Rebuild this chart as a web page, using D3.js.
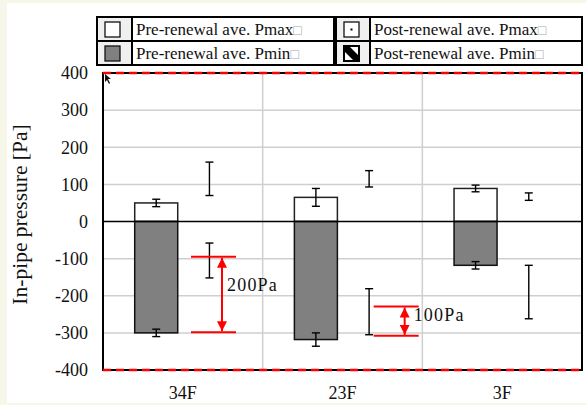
<!DOCTYPE html>
<html>
<head>
<meta charset="utf-8">
<script src="https://cdn.jsdelivr.net/npm/d3@7"></script>
<style>
  body { margin: 0; background: #f6f6e9; }
  svg { display: block; }
  text { font-family: "Liberation Serif", "Times New Roman", serif; fill: #111; }
</style>
</head>
<body>
<svg id="chart" width="586" height="405"></svg>
<script>
// floors
var categories = ["34F", "23F", "3F"];
// pre-renewal averages and error sizes
var preMax = [50, 65, 89];
var preMaxErr = [10, 24, 9];
var preMin = [-300, -318, -118];
var preMinErr = [10, 18, 10];
// post-renewal averages (only error bars visible)
var postMax = [115, 115, 67];
var postMaxErr = [45, 22, 10];
var postMin = [-105, -243, -190];
var postMinErr = [47, 62, 72];
var yTicks = [-400, -300, -200, -100, 0, 100, 200, 300, 400];
// difference annotations
var annoCat = ["34F", "23F"];
var annoTop = [-95, -229];
var annoBottom = [-298, -308];
var annoLabel = ["200Pa", "100Pa"];
var legendLabels = ["Pre-renewal ave. Pmax", "Post-renewal ave. Pmax",
                    "Pre-renewal ave. Pmin", "Post-renewal ave. Pmin"];

var svg = d3.select("#chart");
var W = 586, H = 405;
var m = {left: 103, right: 4, top: 73, bottom: 35};
var pw = W - m.left - m.right, ph = H - m.top - m.bottom;

svg.append("rect").attr("x", 7).attr("y", 3).attr("width", 579).attr("height", 400).attr("fill", "#fff");

var defs = svg.append("defs");
defs.append("marker").attr("id", "ah").attr("viewBox", "0 0 10 10")
  .attr("refX", 10).attr("refY", 5).attr("markerWidth", 5).attr("markerHeight", 5)
  .attr("orient", "auto-start-reverse")
  .append("path").attr("d", "M0,0L10,5L0,10z").attr("fill", "#ff0000");

var x = d3.scaleBand().domain(categories).range([0, pw]);
var x1 = d3.scalePoint().domain(["pre", "post"]).range([0, x.bandwidth()]).padding(1);
var y = d3.scaleLinear().domain([-400, 400]).range([ph, 0]);
var barW = 43;

var g = svg.append("g").attr("transform", "translate(" + m.left + "," + m.top + ")");

// grid
g.selectAll(".hg").data(yTicks.filter(function(d) { return d !== 0 && Math.abs(d) !== 400; }))
  .enter().append("line")
  .attr("x1", 0).attr("x2", pw).attr("y1", function(d) { return y(d); }).attr("y2", function(d) { return y(d); })
  .attr("stroke", "#cfcfcf").attr("stroke-width", 1.5);
g.selectAll(".vg").data(categories.slice(1)).enter().append("line")
  .attr("x1", function(d) { return x(d); }).attr("x2", function(d) { return x(d); })
  .attr("y1", 0).attr("y2", ph).attr("stroke", "#cfcfcf").attr("stroke-width", 1.5);

// bars
var rows = categories.map(function(c, i) {
  return {cat: c, preMax: preMax[i], preMaxErr: preMaxErr[i], preMin: preMin[i], preMinErr: preMinErr[i],
          postMax: postMax[i], postMaxErr: postMaxErr[i], postMin: postMin[i], postMinErr: postMinErr[i]};
});

function cx(d, s) { return x(d.cat) + x1(s); }

g.selectAll(".bmax").data(rows).enter().append("rect")
  .attr("x", function(d) { return cx(d, "pre") - barW / 2; })
  .attr("y", function(d) { return y(d.preMax); })
  .attr("width", barW).attr("height", function(d) { return y(0) - y(d.preMax); })
  .attr("fill", "#fff").attr("stroke", "#222").attr("stroke-width", 1.5);
g.selectAll(".bmin").data(rows).enter().append("rect")
  .attr("x", function(d) { return cx(d, "pre") - barW / 2; })
  .attr("y", y(0))
  .attr("width", barW).attr("height", function(d) { return y(d.preMin) - y(0); })
  .attr("fill", "#808080").attr("stroke", "#111").attr("stroke-width", 1.5);

// zero line
g.append("line").attr("x1", 0).attr("x2", pw).attr("y1", y(0)).attr("y2", y(0))
  .attr("stroke", "#000").attr("stroke-width", 1.3);

// error bars
var errs = [];
rows.forEach(function(d) {
  errs.push({x: cx(d, "pre"), v: d.preMax, e: d.preMaxErr});
  errs.push({x: cx(d, "pre"), v: d.preMin, e: d.preMinErr});
  errs.push({x: cx(d, "post"), v: d.postMax, e: d.postMaxErr});
  errs.push({x: cx(d, "post"), v: d.postMin, e: d.postMinErr});
});
var eb = g.selectAll(".err").data(errs).enter().append("g").attr("stroke", "#000").attr("stroke-width", 1.4);
eb.append("line").attr("x1", function(d) { return d.x; }).attr("x2", function(d) { return d.x; })
  .attr("y1", function(d) { return y(d.v + d.e); }).attr("y2", function(d) { return y(d.v - d.e); });
[1, -1].forEach(function(s) {
  eb.append("line").attr("x1", function(d) { return d.x - 4; }).attr("x2", function(d) { return d.x + 4; })
    .attr("y1", function(d) { return y(d.v + s * d.e); }).attr("y2", function(d) { return y(d.v + s * d.e); });
});

// annotations
var annoX = {"34F": [88, 133, 119], "23F": [111, 156, 142]};
var annoText = {"34F": [124, -10], "23F": [151, -6]};
annoCat.forEach(function(c, i) {
  var ax = annoX[c], bx = x(c);
  [annoTop[i], annoBottom[i]].forEach(function(v) {
    g.append("line").attr("x1", bx + ax[0]).attr("x2", bx + ax[1]).attr("y1", y(v)).attr("y2", y(v))
      .attr("stroke", "#ff0000").attr("stroke-width", 2);
  });
  g.append("line").attr("x1", bx + ax[2]).attr("x2", bx + ax[2])
    .attr("y1", y(annoTop[i]) + 1).attr("y2", y(annoBottom[i]) - 1)
    .attr("stroke", "#ff0000").attr("stroke-width", 2)
    .attr("marker-start", "url(#ah)").attr("marker-end", "url(#ah)");
  g.append("text").attr("x", bx + annoText[c][0])
    .attr("y", y((annoTop[i] + annoBottom[i]) / 2) + annoText[c][1])
    .attr("font-size", 18).attr("letter-spacing", 1.2).attr("dy", "0.35em")
    .text(annoLabel[i]);
});

// axes frame
g.append("rect").attr("width", pw).attr("height", ph).attr("fill", "none")
  .attr("stroke", "#000").attr("stroke-width", 2);
[400, -400].forEach(function(v) {
  g.append("line").attr("x1", 0).attr("x2", pw).attr("y1", y(v)).attr("y2", y(v))
    .attr("stroke", "#ff0000").attr("stroke-width", 2.5).attr("stroke-dasharray", "8,5");
});

// stray mouse cursor from the original screenshot
g.append("path").attr("d", "M2,1L2,9L4,7L6,11L7,10L5,6L8,6Z").attr("fill", "#111");

var ya = g.append("g").call(d3.axisLeft(y).tickValues(yTicks).tickSize(0).tickPadding(15)
  .tickFormat(function(d) { return String(d); }));
ya.select(".domain").remove();
ya.attr("font-family", null).attr("font-size", null);
ya.selectAll("text").attr("font-size", 18).attr("fill", "#111");

var xa = g.append("g").attr("transform", "translate(0," + ph + ")")
  .call(d3.axisBottom(x).tickSize(0).tickPadding(16));
xa.select(".domain").remove();
xa.attr("font-family", null).attr("font-size", null);
xa.selectAll("text").attr("font-size", 18).attr("fill", "#111");

svg.append("text").attr("transform", "translate(27," + (m.top + ph / 2 - 7) + ") rotate(-90)")
  .attr("text-anchor", "middle").attr("font-size", 21.5).text("In-pipe pressure [Pa]");

// legend table
var lg = svg.append("g");
var colX = [97, 132, 336, 370, 582];
var rowY = [17, 41, 65];
for (var r = 0; r < 2; r++) {
  for (var k = 0; k < 2; k++) {
    var ix = colX[k * 2], tx = colX[k * 2 + 1], ex = colX[k * 2 + 2];
    lg.append("rect").attr("x", ix).attr("y", rowY[r]).attr("width", tx - ix).attr("height", rowY[r + 1] - rowY[r])
      .attr("fill", "#f0f0f0").attr("stroke", "#000").attr("stroke-width", 2);
    lg.append("rect").attr("x", tx).attr("y", rowY[r]).attr("width", ex - tx - (k === 0 ? 2 : 0)).attr("height", rowY[r + 1] - rowY[r])
      .attr("fill", "#fff").attr("stroke", "#000").attr("stroke-width", 2);
    var sx = ix + 8, sy = rowY[r] + 5, ss = 15;
    var sw = lg.append("rect").attr("x", sx).attr("y", sy).attr("width", ss).attr("height", ss)
      .attr("stroke", "#111").attr("stroke-width", 1.3);
    if (k === 0) {
      sw.attr("fill", r === 0 ? "#fff" : "#808080");
    } else if (r === 0) {
      sw.attr("fill", "#fff");
      lg.append("rect").attr("x", sx + 6.5).attr("y", sy + 6.5).attr("width", 2).attr("height", 2).attr("fill", "#000");
    } else {
      sw.attr("fill", "#fff");
      lg.append("path").attr("d", "M" + sx + "," + sy + "L" + (sx + 5) + "," + sy + "L" + (sx + ss) + "," + (sy + ss - 5) +
        "L" + (sx + ss) + "," + (sy + ss) + "L" + (sx + ss - 5) + "," + (sy + ss) + "L" + sx + "," + (sy + 5) + "Z")
        .attr("fill", "#000");
      lg.append("rect").attr("x", sx).attr("y", sy).attr("width", ss).attr("height", ss)
        .attr("fill", "none").attr("stroke", "#000").attr("stroke-width", 2);
    }
    var t = lg.append("text").attr("x", tx + 4).attr("y", rowY[r] + 18).attr("font-size", 17)
      .text(legendLabels[r * 2 + k]);
    t.append("tspan").attr("fill", "#aaa").attr("font-size", 14).text("\u25A1");
  }
}
</script>
</body>
</html>
